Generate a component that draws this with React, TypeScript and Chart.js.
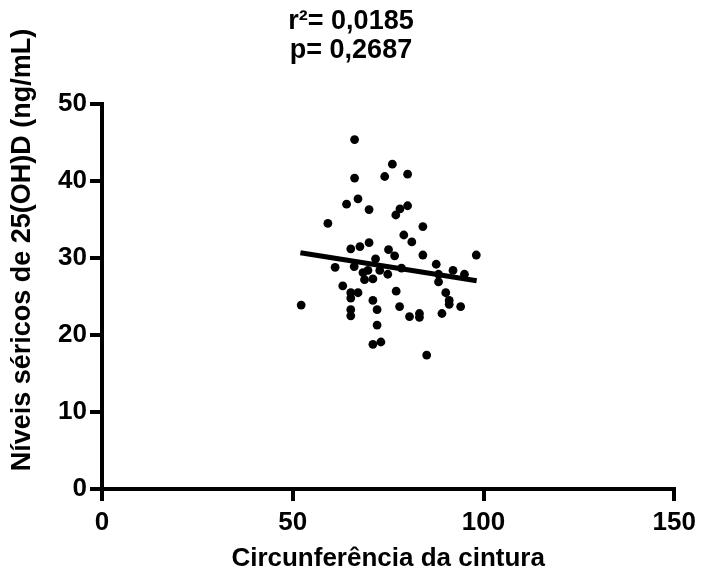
import React, { useEffect, useRef } from "react";
import { Chart, registerables } from "chart.js";

Chart.register(...registerables);

// Scatter points: waist circumference (x) vs serum 25(OH)D (y)
const waist: number[] = [
  66.2, 76.1, 66.2, 74.1, 80.1, 67.1, 64.1, 70.0, 78.1, 80.1,
  77.0, 59.2, 84.1, 79.1, 81.2, 65.2, 67.6, 70.0, 75.1, 76.7,
  84.1, 98.1, 71.7, 61.1, 66.1, 68.4, 68.8, 71.0, 69.7, 72.8,
  74.9, 78.5, 63.1, 65.2, 67.1, 65.2, 77.1, 71.0, 72.1, 78.0,
  65.2, 65.2, 80.6, 83.2, 83.2, 72.1, 52.2, 87.6, 88.2, 92.0,
  95.0, 88.2, 90.1, 91.0, 91.0, 94.0, 89.1, 71.0, 73.1, 85.1,
];
const vitD: number[] = [
  45.4, 42.2, 40.4, 40.6, 40.9, 37.7, 37.0, 36.3, 36.4, 36.8,
  35.6, 34.5, 34.1, 33.0, 32.1, 31.2, 31.5, 32.0, 31.1, 30.3,
  30.4, 30.4, 29.9, 28.8, 28.9, 28.1, 27.2, 27.3, 28.4, 28.4,
  27.9, 28.7, 26.4, 25.5, 25.5, 24.8, 25.7, 24.5, 23.3, 23.7,
  23.3, 22.5, 22.4, 22.8, 22.3, 21.3, 23.9, 29.2, 27.9, 28.4,
  27.9, 26.9, 25.5, 24.5, 24.0, 23.7, 22.8, 18.8, 19.1, 17.4,
];
// Regression line end points
const fitX: number[] = [52.0, 98.2];
const fitY: number[] = [30.7, 27.05];

const titleLines: string[] = ["r\u00B2= 0,0185", "p= 0,2687"];
const xTitle = "Circunfer\u00EAncia da cintura";
const yTitle = "N\u00EDveis s\u00E9ricos de 25(OH)D (ng/mL)";
const xRange: number[] = [0, 150, 50];
const yRange: number[] = [0, 50, 10];

const FONT = "'Liberation Sans', Arial, sans-serif";

// Draws the rotated y-axis title, centred where the reference places it
const yTitlePlugin = {
  id: "yTitleText",
  afterDraw(chart: any) {
    const ctx = chart.ctx;
    ctx.save();
    ctx.translate(23, 250);
    ctx.rotate(-Math.PI / 2);
    ctx.fillStyle = "#000";
    ctx.font = `bold 27px ${FONT}`;
    ctx.textAlign = "center";
    ctx.textBaseline = "middle";
    ctx.fillText(yTitle, 0, 0);
    ctx.restore();
  },
};

export default function App() {
  const ref = useRef<HTMLCanvasElement | null>(null);

  useEffect(() => {
    if (!ref.current) return;
    const points = waist.map((x, i) => ({ x, y: vitD[i] }));
    const fit = fitX.map((x, i) => ({ x, y: fitY[i] }));
    const chart = new Chart(ref.current, {
      type: "scatter",
      plugins: [yTitlePlugin],
      data: {
        datasets: [
          {
            data: fit,
            showLine: true,
            borderColor: "#000",
            borderWidth: 5,
            pointRadius: 0,
            order: 0,
          },
          {
            data: points,
            pointRadius: 4.4,
            pointBackgroundColor: "#000",
            pointBorderWidth: 0,
            borderColor: "#000",
            order: 1,
          },
        ],
      },
      options: {
        animation: false,
        responsive: true,
        maintainAspectRatio: false,
        layout: { padding: { left: 25, right: 25, top: 0, bottom: 0 } },
        plugins: {
          legend: { display: false },
          tooltip: { enabled: false },
          title: {
            display: true,
            text: titleLines,
            color: "#000",
            font: { family: FONT, size: 27, weight: "bold", lineHeight: 1.04 },
            padding: { top: 8, bottom: 40 },
          },
        },
        scales: {
          x: {
            type: "linear",
            min: xRange[0],
            max: xRange[1],
            afterFit: (s: any) => {
              s.height = 94;
            },
            ticks: {
              stepSize: xRange[2],
              color: "#000",
              padding: 6,
              font: { family: FONT, size: 26, weight: "bold" },
            },
            border: { display: true, width: 4, color: "#000" },
            grid: {
              drawOnChartArea: false,
              drawTicks: true,
              tickLength: 12,
              lineWidth: 4,
              color: "#000",
            },
            title: {
              display: true,
              text: xTitle,
              color: "#000",
              font: { family: FONT, size: 26, weight: "bold", lineHeight: 1.2 },
              padding: { top: 0, bottom: 9 },
            },
          },
          y: {
            type: "linear",
            min: yRange[0],
            max: yRange[1],
            afterFit: (s: any) => {
              s.width = 77;
            },
            ticks: {
              stepSize: yRange[2],
              color: "#000",
              padding: 3,
              font: { family: FONT, size: 26, weight: "bold" },
            },
            border: { display: true, width: 4, color: "#000" },
            grid: {
              drawOnChartArea: false,
              drawTicks: true,
              tickLength: 12,
              lineWidth: 4,
              color: "#000",
            },
            title: { display: false },
          },
        },
      },
    });
    return () => chart.destroy();
  }, []);

  return (
    <div
      style={{
        position: "fixed",
        left: 0,
        top: 0,
        width: 702,
        height: 583,
        background: "#fff",
      }}
    >
      <canvas ref={ref} />
    </div>
  );
}
